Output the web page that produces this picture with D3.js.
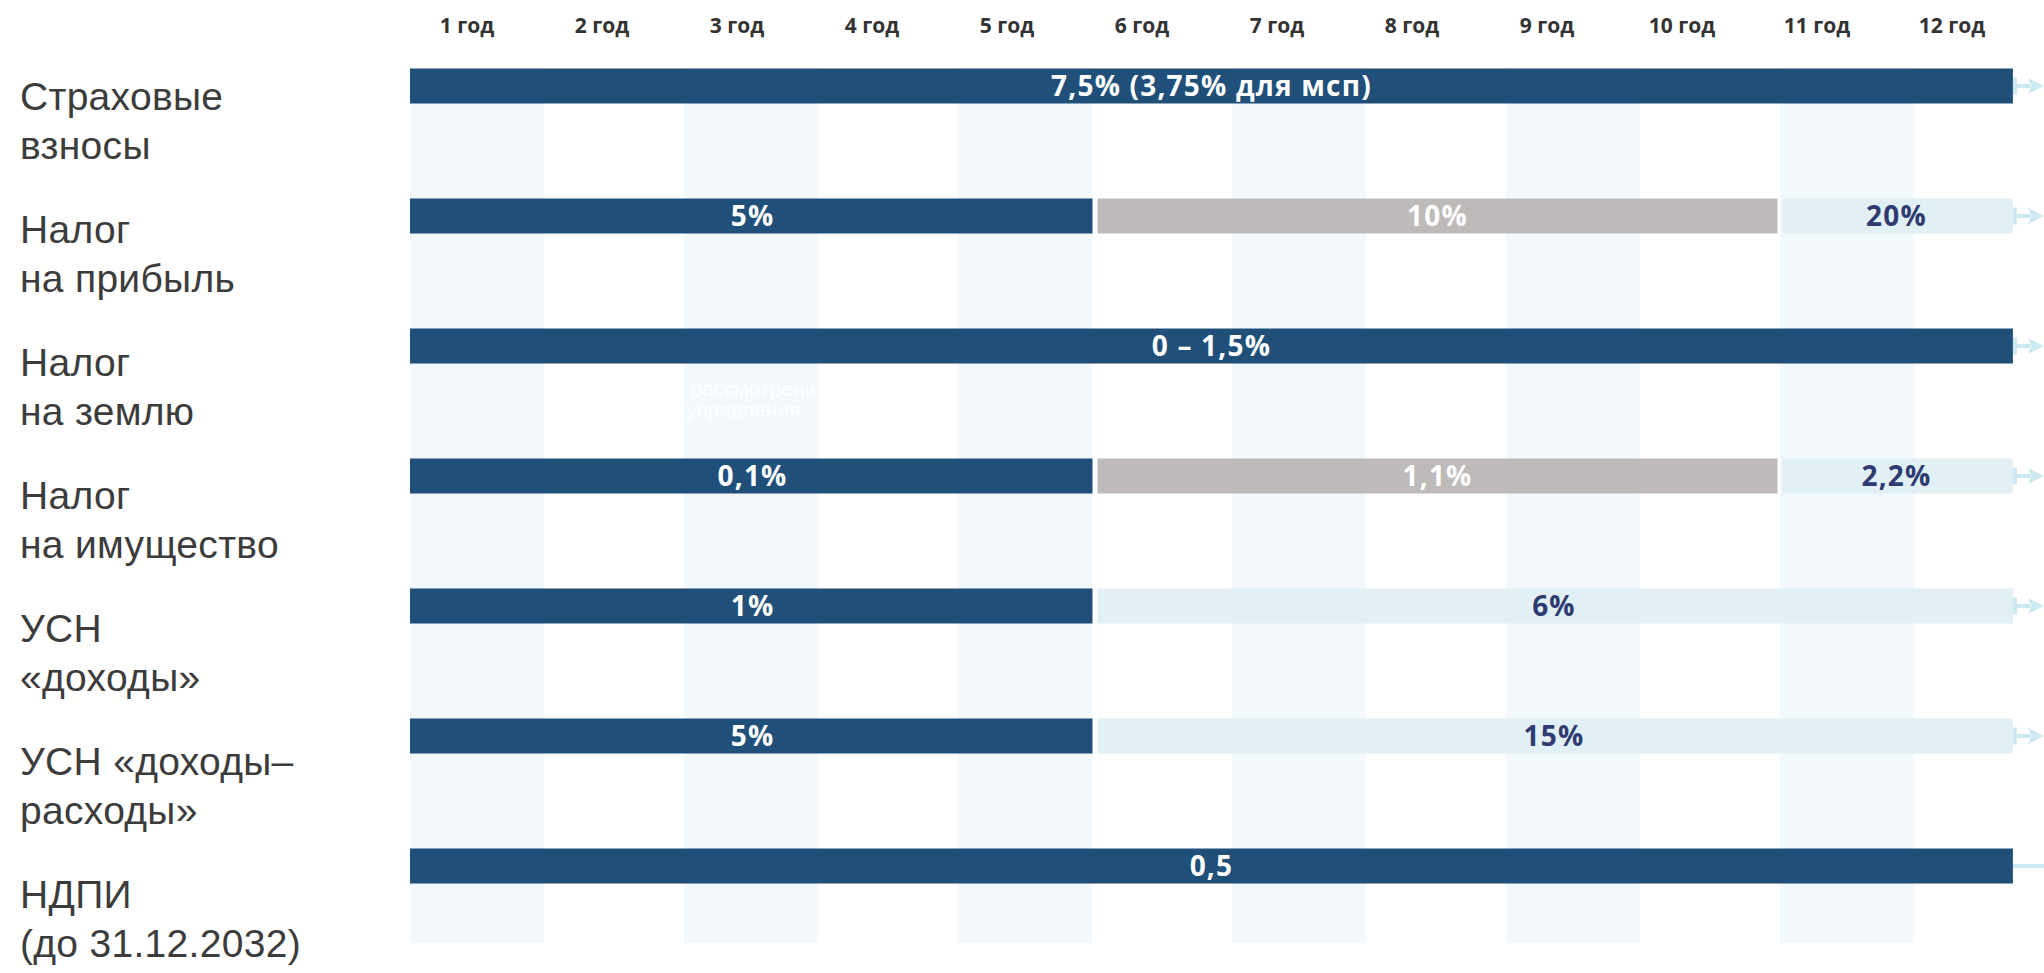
<!DOCTYPE html>
<html>
<head>
<meta charset="utf-8">
<script src="https://cdn.jsdelivr.net/npm/d3@7"></script>
<style>
  body { margin: 0; background: #fff; }
  .year { font-family: 'Open Sans', sans-serif; font-weight: 700; font-size: 21px; fill: #333; }
  .tax { font-family: 'Liberation Sans', Arial, sans-serif; font-size: 39px; letter-spacing: 0.3px; fill: #3c3c3c; }
  .rate { font-family: 'Open Sans', sans-serif; font-weight: 700; font-size: 28px; letter-spacing: 1.2px; }
  .ghost { font-family: 'Liberation Sans', sans-serif; font-size: 21px; fill: #fff; }
</style>
</head>
<body>
<script>
const years = ['1 год', '2 год', '3 год', '4 год', '5 год', '6 год',
               '7 год', '8 год', '9 год', '10 год', '11 год', '12 год'];

const taxLabels = [
    ['Страховые', 'взносы'],
    ['Налог', 'на прибыль'],
    ['Налог', 'на землю'],
    ['Налог', 'на имущество'],
    ['УСН', '«доходы»'],
    ['УСН «доходы–', 'расходы»'],
    ['НДПИ', '(до 31.12.2032)']
];

// open end of the time line, in years
const END = 11.7;

// [rate, from year, to year, phase] ; phase 0 = льготная, 1 = переходная, 2 = общая
const rowSegments = [
    [['7,5% (3,75% для мсп)', 0, END, 0]],
    [['5%', 0, 5, 0], ['10%', 5, 10, 1], ['20%', 10, END, 2]],
    [['0 – 1,5%', 0, END, 0]],
    [['0,1%', 0, 5, 0], ['1,1%', 5, 10, 1], ['2,2%', 10, END, 2]],
    [['1%', 0, 5, 0], ['6%', 5, END, 2]],
    [['5%', 0, 5, 0], ['15%', 5, END, 2]],
    [['0,5', 0, END, 0]]
];

const openEnded = [true, true, true, true, true, true, false];

const ghostLines = ['рассмотрения', 'управления'];

const svgWidth = 2044;
const svgHeight = 973;
const barHeight = 35;
const gap = 2.5;

const svg = d3.select('body')
              .append('svg')
              .attr('width', svgWidth)
              .attr('height', svgHeight);

const x = d3.scaleLinear().domain([0, 10]).range([410, 1780]);
const yearX = d3.scalePoint().domain(years).range([467, 1952]);
const rowY = d3.scalePoint().domain(d3.range(taxLabels.length)).range([86, 866]);
const labelY = d3.scalePoint().domain(d3.range(taxLabels.length)).range([110, 908]);

const phaseColor = d3.scaleOrdinal().domain([0, 1, 2]).range(['#204f79', '#bebab9', '#e1f0f5']);
const phaseText = d3.scaleOrdinal().domain([0, 1, 2]).range(['#ffffff', '#ffffff', '#2f3b70']);
const arrowColor = '#cce8f0';

// alternating year stripes
svg.append('g')
   .selectAll('rect')
   .data(d3.range(0, years.length, 2))
   .enter().append('rect')
   .attr('x', d => x(d))
   .attr('width', d => x(d + 1) - x(d) - 3)
   .attr('y', rowY(0) - barHeight / 2)
   .attr('height', 943 - (rowY(0) - barHeight / 2))
   .attr('fill', '#f3f8fc');

// faint leftover text
svg.append('g')
   .selectAll('text')
   .data(ghostLines)
   .enter().append('text')
   .attr('class', 'ghost')
   .attr('x', (d, i) => x(2) + (i ? 2 : 6))
   .attr('y', (d, i) => rowY(2) + 50 + i * 21)
   .text(d => d);

// year header
svg.append('g')
   .selectAll('text')
   .data(years)
   .enter().append('text')
   .attr('class', 'year')
   .attr('x', d => yearX(d))
   .attr('y', 33)
   .attr('text-anchor', 'middle')
   .text(d => d);

// row labels
svg.append('g')
   .selectAll('text')
   .data(taxLabels)
   .enter().append('text')
   .attr('class', 'tax')
   .attr('y', (d, i) => labelY(i))
   .selectAll('tspan')
   .data(d => d)
   .enter().append('tspan')
   .attr('x', 20)
   .attr('dy', (d, i) => i ? 49 : 0)
   .text(d => d);

// bars
const rows = svg.append('g')
                .selectAll('g')
                .data(rowSegments)
                .enter().append('g')
                .attr('transform', (d, i) => `translate(0,${rowY(i)})`);

// arrows on open ends
rows.each(function(d, i) {
    const g = d3.select(this);
    const x0 = x(END);
    if (openEnded[i]) {
        g.append('rect').attr('x', x0).attr('y', -8.5).attr('width', 4).attr('height', 17).attr('fill', arrowColor);
        g.append('rect').attr('x', x0).attr('y', -2).attr('width', 18).attr('height', 4).attr('fill', arrowColor);
        g.append('path')
         .attr('d', `M${x0 + 15},${-8} L${x0 + 31},0 L${x0 + 15},8 L${x0 + 19},0 Z`)
         .attr('fill', arrowColor);
    } else {
        g.append('rect').attr('x', x0).attr('y', -2).attr('width', svgWidth - x0).attr('height', 4).attr('fill', arrowColor);
    }
});

const seg = rows.selectAll('g.seg')
                .data(d => d)
                .enter().append('g')
                .attr('class', 'seg');

seg.append('rect')
   .attr('x', d => x(d[1]) + (d[1] > 0 ? gap : 0))
   .attr('width', d => x(d[2]) - x(d[1]) - (d[1] > 0 ? gap : 0) - (d[2] < END ? gap : 0))
   .attr('y', -barHeight / 2)
   .attr('height', barHeight)
   .attr('fill', d => phaseColor(d[3]));

seg.append('text')
   .attr('class', 'rate')
   .attr('x', d => (x(d[1]) + x(d[2])) / 2)
   .attr('y', 0)
   .attr('dy', '0.35em')
   .attr('text-anchor', 'middle')
   .attr('fill', d => phaseText(d[3]))
   .text(d => d[0]);
</script>
</body>
</html>
